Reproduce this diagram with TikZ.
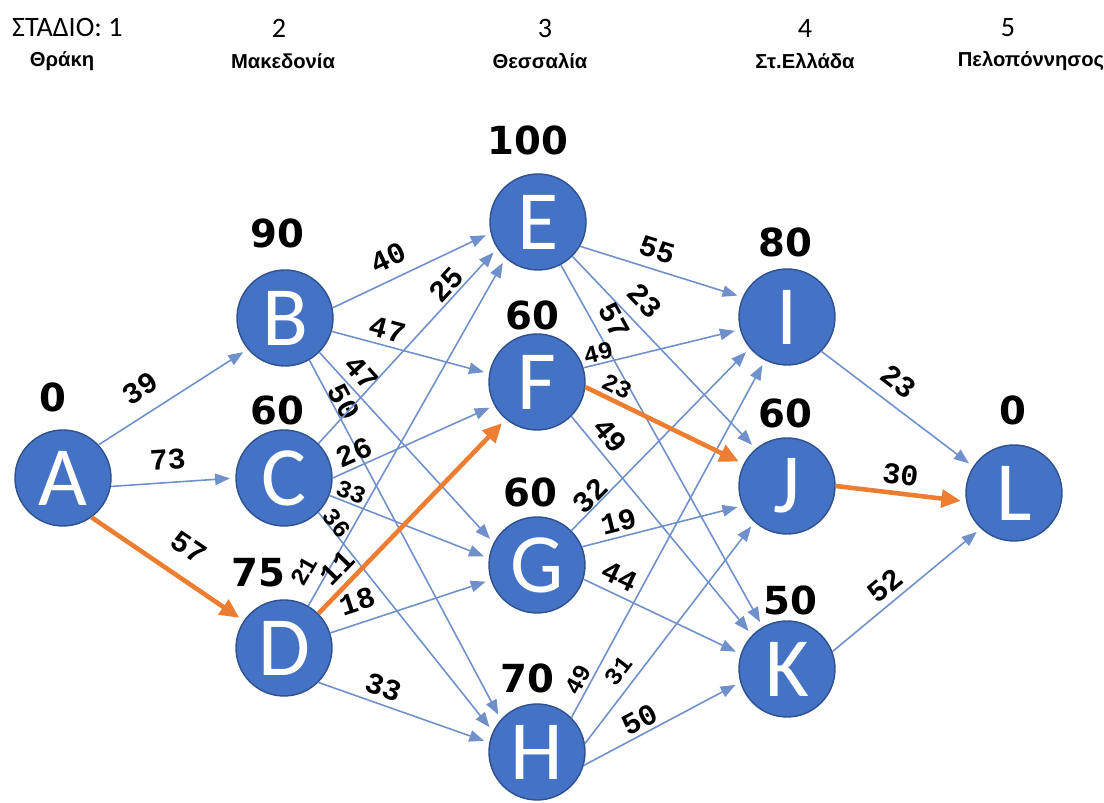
\documentclass[tikz,border=0pt]{standalone}
\usepackage{fontspec}
\setmainfont{Carlito}
\newfontfamily\numfont{Liberation Mono}
\newfontfamily\costfont{DejaVu Sans}
\newfontfamily\regionfont{Liberation Sans}
\usepackage{tikz}
\usetikzlibrary{arrows.meta}

\definecolor{stblue}{HTML}{4472C4}
\definecolor{stborder}{HTML}{2F528F}
\definecolor{linkblue}{HTML}{7090CC}
\definecolor{pathorange}{HTML}{ED7D31}

\begin{document}
\begin{tikzpicture}[
    st/.style={circle, draw=stborder, line width=0.8pt, fill=stblue, minimum size=1.92cm,
        inner sep=0pt, text=white, font=\fontsize{48}{48}\selectfont},
    cost/.style={font=\costfont\bfseries\fontsize{22}{22}\selectfont},
    link/.style={draw=linkblue, line width=0.9pt, shorten >=3pt, -{Triangle[length=8.5pt,width=6.5pt]}},
    best/.style={draw=pathorange, line width=2.6pt, shorten >=3pt, -{Triangle[length=11pt,width=10pt]}},
    w/.style={sloped, inner sep=0pt, font=\numfont\bfseries\fontsize{17}{17}\selectfont},
    ws/.style={w, font=\numfont\bfseries\fontsize{14}{14}\selectfont},
    hdr/.style={font=\fontsize{16}{16}\selectfont},
    region/.style={font=\regionfont\bfseries\fontsize{11.5}{11.5}\selectfont}
]
    \useasboundingbox (0, 0) rectangle (22.08, 16.06);

    % stages and regions
    \node[hdr, anchor=west] (s1) at (0.12, 15.50) {ΣΤΑΔΙΟ: 1};
    \node[hdr] (s2) at (5.58, 15.50) {2};
    \node[hdr] (s3) at (10.90, 15.50) {3};
    \node[hdr] (s4) at (16.10, 15.50) {4};
    \node[hdr] (s5) at (20.16, 15.50) {5};
    \node[region] (r1) at (1.24, 14.84) {Θράκη};
    \node[region] (r2) at (5.66, 14.84) {Μακεδονία};
    \node[region] (r3) at (10.80, 14.84) {Θεσσαλία};
    \node[region] (r4) at (16.10, 14.84) {Στ.Ελλάδα};
    \node[region] (r5) at (20.62, 14.84) {Πελοπόννησος};

    % states
    \node[st] (A) at (1.26, 6.50) {A};
    \node[st] (B) at (5.70, 9.70) {B};
    \node[st] (C) at (5.68, 6.50) {C};
    \node[st] (D) at (5.68, 3.10) {D};
    \node[st] (E) at (10.76, 11.62) {E};
    \node[st] (F) at (10.74, 8.42) {F};
    \node[st] (G) at (10.74, 4.76) {G};
    \node[st] (H) at (10.74, 1.02) {H};
    \node[st] (I) at (15.74, 9.72) {I};
    \node[st] (J) at (15.74, 6.34) {J};
    \node[st] (K) at (15.74, 2.68) {K};
    \node[st] (L) at (20.28, 6.20) {L};

    % values f(x)
    \node[cost] (vA) at (1.06, 8.12) {0};
    \node[cost] (vB) at (5.54, 11.40) {90};
    \node[cost] (vC) at (5.54, 7.86) {60};
    \node[cost] (vD) at (5.16, 4.60) {75};
    \node[cost] (vE) at (10.56, 13.26) {100};
    \node[cost] (vF) at (10.64, 9.76) {60};
    \node[cost] (vG) at (10.60, 6.22) {60};
    \node[cost] (vH) at (10.54, 2.50) {70};
    \node[cost] (vI) at (15.70, 11.22) {80};
    \node[cost] (vJ) at (15.70, 7.80) {60};
    \node[cost] (vK) at (15.80, 4.06) {50};
    \node[cost] (vL) at (20.26, 7.86) {0};

    % stage 1 -> 2
    \draw[link] (A.43) -- node[w, above=8pt, pos=.37] {39} (B.220);
    \draw[link] (A.-10) -- node[w, above=7pt, pos=.47] {73} (C.180);
    % stage 2 -> 3
    \draw[link] (B.12) -- node[w, above=6pt, pos=.41] {40} (E.193);
    \draw[link] (B.-16) -- node[w, above=3pt, pos=.33] {47} (F.170);
    \draw[link] (B.-45) -- node[w, above=4pt, pos=.17] {47} (G.153);
    \draw[link] (B.-60) -- node[w, above=0pt, pos=.13] {50} (H.138);
    \draw[link] (C.45) -- node[w, above=1pt, pos=.77] {25} (E.213);
    \draw[link] (C.0) -- node[w, above=2pt, pos=.17] {26} (F.209);
    \draw[link] (C.-21) -- node[ws, above=1pt, pos=.11] {33} (G.172);
    \draw[link] (C.-45) -- node[ws, above=-1pt, pos=.07] {36} (H.155);
    \draw[link] (D.60) -- node[ws, above=7pt, pos=.07] {21} (E.228);
    \draw[link] (D.18) -- node[w, above=6pt, pos=.21] {18} (G.198);
    \draw[link] (D.-45) -- node[w, above=3.5pt, pos=.35] {33} (H.169);
    % stage 3 -> 4
    \draw[link] (E.-30) -- node[w, above=5pt, pos=.44] {55} (I.156);
    \draw[link] (E.-45) -- node[w, above=6pt, pos=.31] {23} (J.130);
    \draw[link] (E.-62) -- node[w, above=5pt, pos=.18] {57} (K.120);
    \draw[link] (F.17) -- node[ws, above=1pt, pos=.11] {49} (I.195);
    \draw[link] (F.-45) -- node[w, above=4pt, pos=.14] {49} (K.136);
    \draw[link] (G.45) -- node[w, above=0pt, pos=.15] {32} (I.220);
    \draw[link] (G.22) -- node[w, above=2.5pt, pos=.25] {19} (J.204);
    \draw[link] (G.-17) -- node[w, above=4pt, pos=.18] {44} (K.162);
    \draw[link] (H.45) -- node[ws, above=2pt, pos=.09] {49} (I.243);
    \draw[link] (H.10) -- node[ws, above=5pt, pos=.28] {31} (J.228);
    \draw[link] (H.-16) -- node[w, above=2pt, pos=.40] {50} (K.196);
    % stage 4 -> 5
    \draw[link] (I.-45) -- node[w, above=6.5pt, pos=.42] {23} (L.147);
    \draw[link] (K.21) -- node[w, above=3.5pt, pos=.43] {52} (L.227);

    % optimal route A-D-F-J-L
    \draw[best] (A.-54) -- node[w, above=10pt, pos=.53] {57} (D.146);
    \draw[best] (D.45) -- node[w, above=3.5pt, pos=.17] {11} (F.230);
    \draw[best] (F.-6) -- node[ws, above=2pt, pos=.16] {23} (J.153);
    \draw[best] (J.0) -- node[w, above=3.5pt, pos=.48] {30} (L.190);
\end{tikzpicture}
\end{document}
